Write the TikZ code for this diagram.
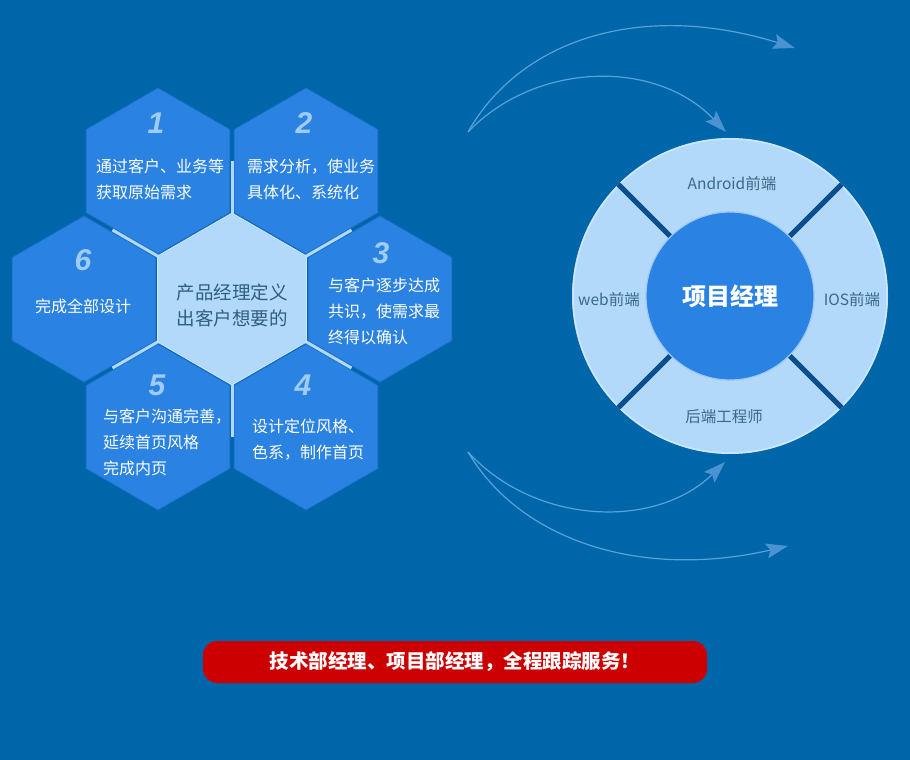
\documentclass[tikz,border=0pt]{standalone}
\usepackage{fontspec}
\setmainfont{Noto Sans CJK SC}
\newfontfamily\numfont{Liberation Sans}
\usetikzlibrary{arrows.meta,calc}
\definecolor{bg}{HTML}{0066AA}
\definecolor{hexblue}{HTML}{2A82E2}
\definecolor{hexedge}{HTML}{1D70CC}
\definecolor{paleblue}{HTML}{B3D9FA}
\definecolor{paleedge}{HTML}{CBE6FD}
\definecolor{numblue}{HTML}{9ECCF4}
\definecolor{tealtext}{HTML}{2E5F7A}
\definecolor{ringtext}{HTML}{3A6A84}
\definecolor{gapblue}{HTML}{0A4F8C}
\definecolor{arrowblue}{HTML}{5AA0DA}
\definecolor{arrowhead}{HTML}{4A92D2}
\definecolor{bannerred}{HTML}{CC0000}
\newcommand\hexshape[3]{\path[#1] ($(#2)+(-90:#3)$) -- ($(#2)+(-30:#3)$) -- ($(#2)+(30:#3)$) -- ($(#2)+(90:#3)$) -- ($(#2)+(150:#3)$) -- ($(#2)+(210:#3)$) -- cycle;}
\begin{document}
\begin{tikzpicture}[x=1pt,y=-1pt,
  outerhex/.style={fill=hexblue, draw=hexedge, line width=0.8pt},
  centerhex/.style={fill=paleblue, draw=paleedge, line width=0.8pt},
  sepline/.style={draw=paleblue, line width=3pt},
  hexnum/.style={font=\numfont\bfseries\itshape\fontsize{30}{30}\selectfont, text=numblue, inner sep=0pt},
  hextext/.style={font=\fontsize{16}{26}\selectfont, text=white, align=left, anchor=west, inner sep=0pt},
  centertext/.style={font=\fontsize{18.5}{26}\selectfont, text=tealtext, align=center, inner sep=0pt},
  ringlabel/.style={font=\fontsize{15.5}{18}\selectfont, text=ringtext, inner sep=0pt},
  gapline/.style={draw=gapblue, line width=5pt},
  flowarrow/.style={draw=arrowblue, line width=1.2pt, -{Stealth[length=22pt,width=15pt,inset=4pt,color=arrowhead,fill=arrowhead]}},
  banner/.style={fill=bannerred, rounded corners=14pt, minimum width=504pt, minimum height=42pt, inner sep=0pt, text=white, font=\bfseries\fontsize{19.5}{22}\selectfont}
]
\fill[bg] (0,0) rectangle (910,760);
\useasboundingbox (0,0) rectangle (910,760);

% hexagon centres
\coordinate (hc) at (232,299);
\coordinate (h1) at (158,171);
\coordinate (h2) at (306,171);
\coordinate (h3) at (380,299);
\coordinate (h4) at (306,427);
\coordinate (h5) at (158,427);
\coordinate (h6) at (84,299);

\foreach \h in {h1,h2,h3,h4,h5,h6} {\hexshape{outerhex}{\h}{83}}
\foreach \a in {-90,-30,30,90,150,210} {\draw[sepline] ($(hc)+(\a:85)$) -- ($(hc)+(\a:138)$);}
\hexshape{centerhex}{hc}{86}

% numbers
\node[hexnum] (n1) at ($(h1)+(-2,-48)$) {1};
\node[hexnum] (n2) at ($(h2)+(-2,-48)$) {2};
\node[hexnum] (n3) at ($(h3)+(1,-46)$) {3};
\node[hexnum] (n4) at ($(h4)+(-3,-42)$) {4};
\node[hexnum] (n5) at ($(h5)+(-1,-42)$) {5};
\node[hexnum] (n6) at ($(h6)+(-1,-39)$) {6};

% hex texts
\node[hextext] (t1) at (96,179) {通过客户、业务等\\获取原始需求};
\node[hextext] (t2) at (247,179) {需求分析，使业务\\具体化、系统化};
\node[hextext] (t3) at (328,311) {与客户逐步达成\\共识，使需求最\\终得以确认};
\node[hextext] (t4) at (252,440) {设计定位风格、\\色系，制作首页};
\node[hextext] (t5) at (103,442) {与客户沟通完善，\\延续首页风格\\完成内页};
\node[hextext] (t6) at (35,306) {完成全部设计};
\node[centertext] (tc) at (232,305) {产品经理定义\\出客户想要的};

% ring
\coordinate (rc) at (730,296);
\fill[paleblue] (rc) circle[radius=158];
\draw[draw=paleedge, line width=1.5pt] (rc) circle[radius=157];
\foreach \a in {-135,-45,45,135} {\draw[gapline] ($(rc)+(\a:82)$) -- ($(rc)+(\a:158)$);}
\node[circle, fill=hexblue, draw=paleedge!70!hexblue, line width=1.2pt, minimum size=168pt, inner sep=0pt,
      text=white, font=\bfseries\fontsize{24}{26}\selectfont] (pm) at (rc) {项目经理};
\node[ringlabel] (android) at (732,184) {Android前端};
\node[ringlabel] (web) at (609,300) {web前端};
\node[ringlabel] (ios) at (852,300) {IOS前端};
\node[ringlabel] (backend) at (724,417) {后端工程师};

% flow arrows
\coordinate (us) at (468,132);
\coordinate (ls) at (468,452);
\coordinate (uo) at (795,48);
\coordinate (ui) at (726,132);
\coordinate (li) at (725,462);
\coordinate (lo) at (788,546);
\draw[flowarrow] (us) .. controls (520,40) and (640,0) .. (uo);
\draw[flowarrow] (us) .. controls (535,62) and (655,58) .. (ui);
\draw[flowarrow] (ls) .. controls (535,525) and (655,530) .. (li);
\draw[flowarrow] (ls) .. controls (520,540) and (640,580) .. (lo);

% banner
\node[banner] (bn) at (455,662) {技术部经理、项目部经理，全程跟踪服务！};
\end{tikzpicture}
\end{document}
